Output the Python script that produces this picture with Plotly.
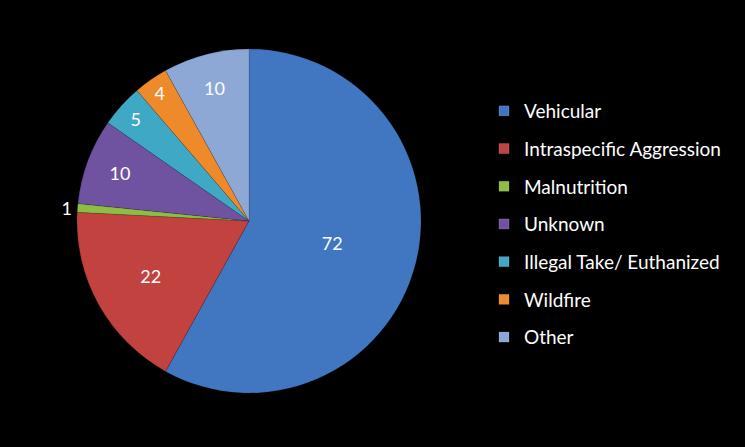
import plotly.graph_objects as go

categories = ["Vehicular", "Intraspecific Aggression", "Malnutrition", "Unknown",
              "Illegal Take/ Euthanized", "Wildfire", "Other"]
values = [72, 22, 1, 10, 5, 4, 10]
colors = ["#4177C0", "#C1423F", "#8DBD45", "#6F52A0", "#3FA9C5", "#EE8A2A", "#8EA8D6"]
text_positions = ["inside", "inside", "outside", "inside", "inside", "inside", "inside"]

FONT = "Lato"
W, H = 745, 447
cx, cy, r = 249, 221, 172

fig = go.Figure()
fig.add_trace(go.Pie(
    labels=categories, values=values, sort=False, direction="clockwise", rotation=0,
    marker=dict(colors=colors, line=dict(color="rgba(0,0,0,0.25)", width=0.5)),
    textinfo="value", textposition=text_positions,
    insidetextorientation="horizontal",
    textfont=dict(family=FONT, size=18, color="white"),
    showlegend=False, hoverinfo="label+value",
    domain=dict(x=[(cx - r) / W, (cx + r) / W], y=[(H - cy - r) / H, (H - cy + r) / H]),
))

for i, (lab, col) in enumerate(zip(categories, colors)):
    fig.add_trace(go.Scatter(
        x=[None], y=[None], mode="markers", name=lab, legendgroup=str(i),
        marker=dict(symbol="square", size=10, color=col,
                    line=dict(color="rgba(255,255,255,0.3)", width=0.5)),
        showlegend=True,
    ))

fig.update_layout(
    width=W, height=H,
    paper_bgcolor="black", plot_bgcolor="black",
    margin=dict(l=0, r=0, t=0, b=0),
    xaxis=dict(visible=False), yaxis=dict(visible=False),
    uniformtext=dict(minsize=18, mode="show"),
    legend=dict(x=484 / W, y=1 - 92 / H, xanchor="left", yanchor="top",
                font=dict(family=FONT, size=19, color="white"),
                tracegroupgap=10, bgcolor="rgba(0,0,0,0)"),
    showlegend=True,
)

fig.write_html("out.html", config={"displayModeBar": False},
               post_script="document.body.style.margin='0';document.body.style.background='black';")
